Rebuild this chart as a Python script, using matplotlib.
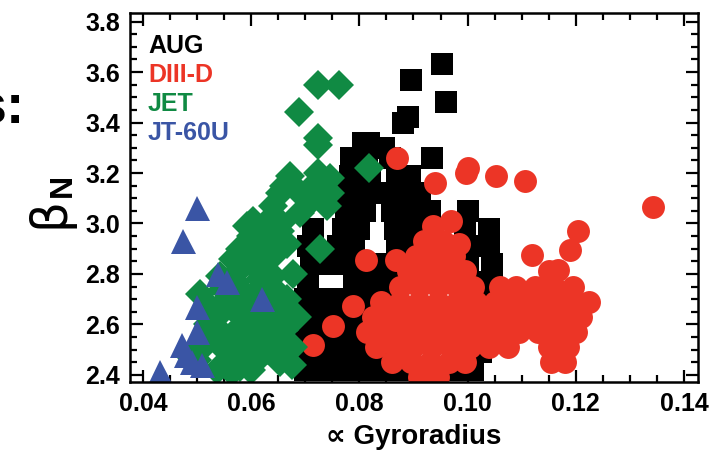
import matplotlib
matplotlib.use('Agg')
from matplotlib import pyplot as plt
from matplotlib.ticker import MultipleLocator

# JT-60U (blue triangles)
jt_x = [0.0500, 0.0474, 0.0539, 0.0556, 0.0500, 0.0620, 0.0500, 0.0472,
        0.0490, 0.0432, 0.0480, 0.0510]
jt_y = [3.06, 2.93, 2.80, 2.77, 2.67, 2.70, 2.57, 2.52, 2.45, 2.41, 2.48, 2.44]

# JET (green diamonds)
jet_x = [0.0724, 0.0763, 0.0689, 0.0724, 0.0724, 0.0817, 0.0672, 0.0724,
         0.0746, 0.0715, 0.0654, 0.0740, 0.0690, 0.0640, 0.0604, 0.0593,
         0.0728, 0.0654, 0.0630, 0.0667, 0.0580, 0.0600, 0.0640, 0.0678,
         0.0580, 0.0548, 0.0648, 0.0667, 0.0585, 0.0524, 0.0567, 0.0617,
         0.0685, 0.0518, 0.0560, 0.0600, 0.0678, 0.0648, 0.0537, 0.0580,
         0.0654, 0.0500, 0.0617, 0.0556, 0.0506, 0.0593, 0.0537, 0.0580,
         0.0617, 0.0640, 0.0630, 0.0640, 0.0690, 0.0710, 0.0660, 0.0746,
         0.0617, 0.0567, 0.0543, 0.0506, 0.0485,
         0.0555, 0.0600, 0.0630, 0.0660, 0.0520, 0.0555, 0.0600, 0.0650,
         0.0610, 0.0570, 0.0625, 0.0600, 0.0655, 0.0630, 0.0585, 0.0545,
         0.0565, 0.0620, 0.0675, 0.0540]
jet_y = [3.55, 3.55, 3.44, 3.34, 3.31, 3.22, 3.19, 3.20,
         3.18, 3.15, 3.12, 3.07, 3.04, 3.07, 3.01, 2.99,
         2.90, 2.97, 2.95, 2.92, 2.90, 2.86, 2.87, 2.80,
         2.82, 2.74, 2.73, 2.70, 2.73, 2.67, 2.66, 2.63,
         2.63, 2.55, 2.55, 2.55, 2.51, 2.55, 2.42, 2.43,
         2.45, 2.46, 2.47, 2.49, 2.50, 2.51, 2.63, 2.74,
         2.78, 2.79, 2.71, 3.03, 3.12, 3.09, 3.15, 3.12,
         2.93, 2.86, 2.79, 2.72, 2.48,
         2.45, 2.42, 2.50, 2.58, 2.60, 2.70, 2.68, 2.67,
         2.82, 2.77, 2.90, 2.95, 3.00, 2.60, 2.60, 2.52,
         2.41, 2.75, 2.44, 2.58]

# AUG (black squares)
aug_x = [0.0700, 0.0740, 0.0780, 0.0820, 0.0860, 0.0890, 0.0975, 0.1010,
         0.0695, 0.0735, 0.0775, 0.0815, 0.0855, 0.0990, 0.1025,
         0.0700, 0.0740, 0.0780, 0.0815, 0.0850,
         0.0705, 0.0745, 0.0785, 0.0825,
         0.0700, 0.0740, 0.0780, 0.0820, 0.0855, 0.1040,
         0.0705, 0.0790, 0.0830, 0.0870, 0.1010, 0.1045,
         0.0710, 0.0750, 0.0785, 0.0840, 0.1000, 0.1045,
         0.0705, 0.0760, 0.0790, 0.0870, 0.0900, 0.1005, 0.1040,
         0.0715, 0.0770, 0.0800, 0.0865, 0.0900, 0.0995, 0.1040,
         0.0775, 0.0810, 0.0860, 0.0895, 0.0930, 0.1000,
         0.0775, 0.0815, 0.0850, 0.0885, 0.0913,
         0.0783, 0.0820, 0.0870, 0.0894,
         0.0785, 0.0815, 0.0857, 0.0935,
         0.0806, 0.0817, 0.0845,
         0.0881, 0.0889, 0.0961, 0.0896, 0.0952]
aug_y = [2.42, 2.42, 2.42, 2.42, 2.42, 2.42, 2.42, 2.42,
         2.49, 2.49, 2.49, 2.49, 2.49, 2.49, 2.49,
         2.56, 2.56, 2.56, 2.56, 2.56,
         2.63, 2.63, 2.63, 2.63,
         2.70, 2.70, 2.70, 2.70, 2.70, 2.70,
         2.77, 2.77, 2.77, 2.77, 2.77, 2.77,
         2.84, 2.84, 2.84, 2.84, 2.84, 2.84,
         2.91, 2.91, 2.91, 2.91, 2.91, 2.91, 2.91,
         2.98, 2.98, 2.98, 2.98, 2.98, 2.98, 2.98,
         3.05, 3.05, 3.05, 3.05, 3.05, 3.05,
         3.12, 3.12, 3.12, 3.12, 3.12,
         3.19, 3.19, 3.19, 3.19,
         3.26, 3.26, 3.26, 3.26,
         3.32, 3.32, 3.30,
         3.40, 3.42, 3.48, 3.57, 3.63]

# DIII-D (red circles)
d3d_x = [0.0870, 0.0940, 0.0998, 0.1000, 0.1052, 0.1106, 0.1343, 0.1204,
         0.1189, 0.1120, 0.0813, 0.0867, 0.1167, 0.0789, 0.0752, 0.0715,
         0.0910, 0.0945,
         0.0860, 0.0895, 0.0930, 0.0965, 0.0995, 0.1155, 0.1180,
         0.0830, 0.0865, 0.0900, 0.0935, 0.0970, 0.1005, 0.1040, 0.1075,
         0.1150, 0.1185,
         0.0815, 0.0850, 0.0885, 0.0920, 0.0955, 0.0990, 0.1025, 0.1060,
         0.1095, 0.1130, 0.1165, 0.1200,
         0.0825, 0.0860, 0.0895, 0.0930, 0.0965, 0.1000, 0.1035, 0.1070,
         0.1105, 0.1140, 0.1175, 0.1210,
         0.0840, 0.0875, 0.0910, 0.0945, 0.0980, 0.1015, 0.1050, 0.1085,
         0.1120, 0.1155, 0.1190, 0.1225,
         0.0875, 0.0910, 0.0945, 0.0980, 0.1010, 0.1060, 0.1090, 0.1125,
         0.1160, 0.1195,
         0.0890, 0.0925, 0.0960, 0.0995, 0.1150,
         0.0905, 0.0940, 0.0975,
         0.0920, 0.0955, 0.0985,
         0.0937, 0.0969]
d3d_y = [3.26, 3.16, 3.20, 3.22, 3.19, 3.17, 3.065, 2.97,
         2.895, 2.875, 2.855, 2.855, 2.815, 2.675, 2.595, 2.52,
         2.39, 2.39,
         2.45, 2.45, 2.45, 2.45, 2.45, 2.45, 2.45,
         2.51, 2.51, 2.51, 2.51, 2.51, 2.51, 2.51, 2.51,
         2.51, 2.51,
         2.57, 2.57, 2.57, 2.57, 2.57, 2.57, 2.57, 2.57,
         2.57, 2.57, 2.57, 2.57,
         2.63, 2.63, 2.63, 2.63, 2.63, 2.63, 2.63, 2.63,
         2.63, 2.63, 2.63, 2.63,
         2.69, 2.69, 2.69, 2.69, 2.69, 2.69, 2.69, 2.69,
         2.69, 2.69, 2.69, 2.69,
         2.75, 2.75, 2.75, 2.75, 2.75, 2.75, 2.75, 2.75,
         2.75, 2.75,
         2.81, 2.81, 2.81, 2.81, 2.81,
         2.87, 2.87, 2.87,
         2.93, 2.93, 2.92,
         2.99, 3.01]

names = ['AUG', 'DIII-D', 'JET', 'JT-60U']
colors = ['#000000', '#ec3526', '#108a43', '#3a55a5']

font = ['Liberation Sans Narrow', 'Liberation Sans', 'DejaVu Sans']
plt.rcParams['font.family'] = font
plt.rcParams['font.weight'] = 'bold'

fig = plt.figure(figsize=(7.22, 4.51), dpi=100)
ax = fig.add_axes([130 / 722, 1 - 382 / 451, 568 / 722, 369 / 451])

ax.plot(aug_x, aug_y, 's', ms=15.8, color=colors[0], mew=0)
ax.plot(d3d_x, d3d_y, 'o', ms=16.5, color=colors[1], mew=0)
ax.plot(jet_x, jet_y, 'D', ms=15, color=colors[2], mew=0)
ax.plot(jt_x, jt_y, '^', ms=18, color=colors[3], mew=0)

ax.set_xlim(0.0376, 0.1426)
ax.set_ylim(2.372, 3.834)
ax.xaxis.set_major_locator(MultipleLocator(0.02))
ax.xaxis.set_minor_locator(MultipleLocator(0.005))
ax.yaxis.set_major_locator(MultipleLocator(0.2))
ax.yaxis.set_minor_locator(MultipleLocator(0.05))
ax.xaxis.set_major_formatter(plt.FuncFormatter(lambda v, p: '%.2f' % v))
ax.yaxis.set_major_formatter(plt.FuncFormatter(lambda v, p: '%.1f' % v))
ax.tick_params(which='both', direction='in', top=True, right=True,
               width=1.6, labelsize=18, pad=7)
ax.tick_params(which='major', length=9)
ax.tick_params(which='minor', length=5)
for sp in ax.spines.values():
    sp.set_linewidth(1.8)

ax.set_xlabel(u'\u221d Gyroradius', fontsize=20, fontweight='bold',
              labelpad=6)

# legend as coloured text
for i, (name, c) in enumerate(zip(names, colors)):
    ax.text(148 / 722, 1 - (46 + 29 * i) / 451, name, color=c, fontsize=18,
            transform=fig.transFigure, ha='left', va='center')

# y label: thin beta with bold subscript N
fig.text(50 / 722, 1 - 212 / 451, u'\u03b2', fontsize=35, family='DejaVu Sans',
         fontweight='normal', rotation=90, ha='center', va='center')
fig.text(63 / 722, 1 - 185 / 451, 'N', fontsize=23, rotation=90,
         ha='center', va='center')
fig.text(24 / 722, 1 - 123 / 451, 's:', fontsize=40, family='Liberation Sans',
         ha='right', va='baseline')

fig.savefig('out.png', dpi=100)
